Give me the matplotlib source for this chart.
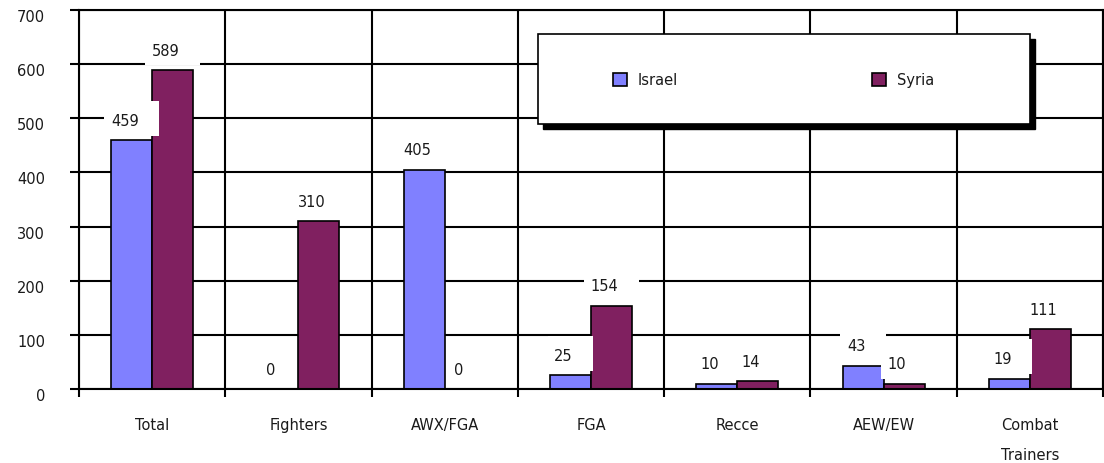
# Israel vs Syria combat aircraft, grouped bar chart

import numpy as np
import matplotlib.pyplot as plt
from matplotlib.patches import Rectangle
from matplotlib.path import Path

categories = ['Total', 'Fighters', 'AWX/FGA', 'FGA', 'Recce', 'AEW/EW', 'Combat\nTrainers']
israel = [459, 0, 405, 25, 10, 43, 19]
syria = [589, 310, 0, 154, 14, 10, 111]
yticks = [0, 100, 200, 300, 400, 500, 600, 700]

col_israel = '#8080FF'
col_syria = '#802060'
fs = 10.5


def label_box(x0, y0, width, height, mutation_size):
	# white patch behind the value labels, wider on the right and top (like the original)
	ms = mutation_size
	xa = x0 - 0.45*ms
	xb = x0 + width + 1.4*ms
	ya = y0 - 0.45*ms
	yb = y0 + height + 0.9*ms
	return Path([(xa, ya), (xb, ya), (xb, yb), (xa, yb), (xa, ya)], closed=True)


def outputs():
	plt.rcParams['font.family'] = 'DejaVu Sans'
	fig = plt.figure(figsize=(11.04, 4.63), dpi=100)
	ax = fig.add_axes([79/1104, 1-389/463, (1103-79)/1104, (389-10)/463])

	x = np.arange(1, len(categories)+1)
	w = 0.28
	b1 = ax.bar(x-w/2, israel, w, color=col_israel, edgecolor='black', linewidth=1.2, label='Israel', zorder=2)
	b2 = ax.bar(x+w/2, syria, w, color=col_syria, edgecolor='black', linewidth=1.2, label='Syria', zorder=2)

	for xs, vals in [(x-w/2, israel), (x+w/2, syria)]:
		for xi, v in zip(xs, vals):
			ax.annotate(str(v), (xi, v), xytext=(-5, 13.5), textcoords='offset points',
				ha='center', va='center', fontsize=fs, color='#1a1a1a', zorder=5,
				bbox=dict(boxstyle=label_box, fc='white', ec='none'))

	ax.set_xlim(0.5, len(categories)+0.5)
	ax.set_ylim(0, 700)
	ax.set_yticks(yticks)
	ax.set_yticklabels([str(t) for t in yticks], fontsize=fs, color='#1a1a1a', va='top')
	ax.set_xticks(np.arange(0.5, len(categories)+1, 1))
	ax.set_xticklabels([])
	ax.set_xticks(x, labels=categories, minor=True)
	for lbl in ax.get_xticklabels(minor=True):
		lbl.set_fontsize(fs)
		lbl.set_color('#1a1a1a')
		lbl.set_linespacing(2.25)
	ax.tick_params(axis='x', which='minor', length=0, pad=21)
	ax.tick_params(axis='x', which='major', length=6, width=1.5, direction='out')
	ax.tick_params(axis='y', length=6.5, width=1.5, direction='out', pad=18)
	ax.grid(True, which='major', color='black', linewidth=1.5)
	ax.set_axisbelow(True)
	for s in ax.spines.values():
		s.set_linewidth(1.5)
		s.set_color('black')

	# legend box with hard black shadow
	bx, by, bw, bh = 0.448, 0.699, 0.481, 0.238
	ax.add_patch(Rectangle((bx+0.005, by-0.013), bw, bh, transform=ax.transAxes,
		facecolor='black', edgecolor='black', zorder=4))
	ax.add_patch(Rectangle((bx, by), bw, bh, transform=ax.transAxes,
		facecolor='white', edgecolor='black', linewidth=1.2, zorder=4))
	leg = ax.legend(handles=[b1, b2], loc='center', bbox_to_anchor=(0.678, 0.815), ncol=2,
		frameon=False, fontsize=fs, handlelength=1.0, handleheight=1.0,
		handletextpad=0.7, columnspacing=13.3)
	leg.set_zorder(6)
	for t in leg.get_texts():
		t.set_color('#1a1a1a')

	plt.savefig('out.png', dpi=100)
	return


if __name__ == "__main__":
	outputs()
